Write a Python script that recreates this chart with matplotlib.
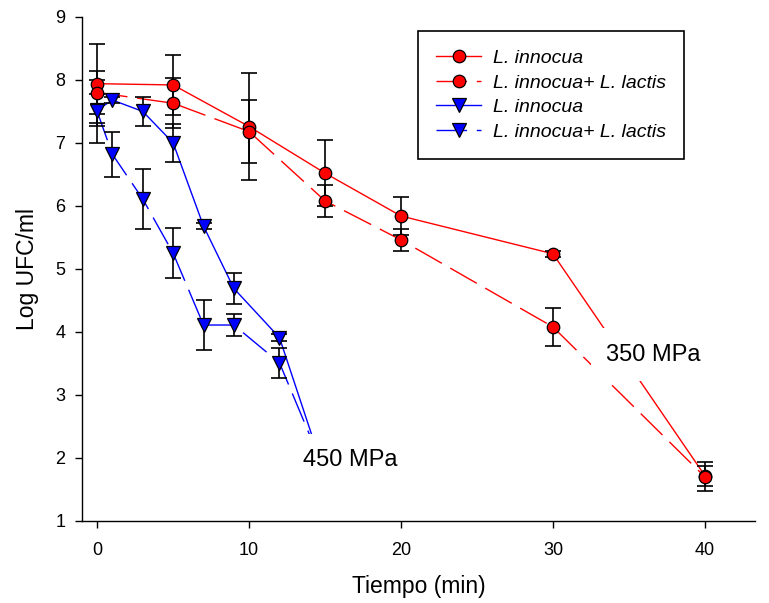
import matplotlib
matplotlib.use("Agg")
import matplotlib.pyplot as plt
from matplotlib.lines import Line2D

plt.rcParams['font.family'] = ['Liberation Sans', 'DejaVu Sans']

# 350 MPa series
t_350 = [0, 5, 10, 15, 20, 30, 40]
inn_350 = [7.94, 7.92, 7.26, 6.52, 5.84, 5.24, 1.72]
inn_350_err = [0.63, 0.48, 0.85, 0.52, 0.30, 0.05, 0.16]
mix_350 = [7.80, 7.63, 7.18, 6.08, 5.46, 4.08, 1.70]
mix_350_err = [0.34, 0.40, 0.50, 0.25, 0.18, 0.30, 0.23]

# 450 MPa series
t_450 = [0, 1, 3, 5, 7, 9, 12, 15]
inn_450 = [7.52, 7.68, 7.50, 7.00, 5.68, 4.69, 3.91, 1.73]
inn_450_err = [0.25, 0.05, 0.23, 0.30, 0.05, 0.24, 0.05, 0.0]
mix_450 = [7.50, 6.82, 6.11, 5.25, 4.11, 4.11, 3.51, 1.78]
mix_450_err = [0.50, 0.36, 0.48, 0.40, 0.40, 0.18, 0.24, 0.0]

labels = ['L. innocua', 'L. innocua+ L. lactis', 'L. innocua', 'L. innocua+ L. lactis']
x_ticks = [0, 10, 20, 30, 40]
y_ticks = [1, 2, 3, 4, 5, 6, 7, 8, 9]

RED = '#ff0000'
BLUE = '#0000ff'
DASH = (0, (22, 7))

fig = plt.figure(figsize=(7.69, 6.03), dpi=100)
ax = fig.add_axes([0.1066, 0.136, 0.8752, 0.836])

series = [
    (t_350, inn_350, inn_350_err, RED, '-', 'o'),
    (t_350, mix_350, mix_350_err, RED, DASH, 'o'),
    (t_450, inn_450, inn_450_err, BLUE, '-', 'v'),
    (t_450, mix_450, mix_450_err, BLUE, DASH, 'v'),
]

handles = []
for (x, y, e, c, ls, m), lab in zip(series, labels):
    ax.plot(x, y, color=c, linestyle=ls, linewidth=1.0, zorder=2)
    ax.errorbar(x, y, yerr=e, fmt='none', ecolor='black', elinewidth=1.2,
                capsize=5.5, capthick=1.2, zorder=3)
    ms = 9 if m == 'o' else 10
    ax.plot(x, y, linestyle='none', marker=m, markersize=ms,
            markerfacecolor=c, markeredgecolor='black', markeredgewidth=0.9,
            zorder=4)
    handles.append(Line2D([], [], color=c, linestyle=ls, linewidth=1.0,
                          marker=m, markersize=ms, markerfacecolor=c,
                          markeredgecolor='black', markeredgewidth=0.9))

ax.text(33.5, 3.64, '350 MPa', fontsize=17, va='center', ha='left',
        zorder=10, bbox=dict(boxstyle='square,pad=0.65', facecolor='white',
                             edgecolor='none'))
ax.text(13.55, 1.96, '450 MPa', fontsize=17, va='center', ha='left',
        zorder=10, bbox=dict(boxstyle='square,pad=0.65', facecolor='white',
                             edgecolor='none'))

ax.set_xlim(-1.0, 43.3)
ax.set_ylim(1, 9)
ax.set_xticks(x_ticks)
ax.set_yticks(y_ticks)
ax.spines['top'].set_visible(False)
ax.spines['right'].set_visible(False)
for s in ('left', 'bottom'):
    ax.spines[s].set_linewidth(1.0)
ax.tick_params(axis='both', direction='out', length=5, width=1.0,
               labelsize=13)
ax.tick_params(axis='x', pad=10)
ax.tick_params(axis='y', pad=7)
ax.set_xlabel('Tiempo (min)', fontsize=16.5, labelpad=12)
ax.set_ylabel('Log UFC/ml', fontsize=16.5, labelpad=12)

leg = ax.legend(handles, labels, loc='upper left',
                bbox_to_anchor=(0.499, 0.972), prop={'style': 'italic', 'size': 14},
                frameon=True, fancybox=False, shadow=False, framealpha=1,
                edgecolor='black', borderpad=0.95, labelspacing=0.36,
                handlelength=2.3, handletextpad=0.6, borderaxespad=0,
                numpoints=1)
leg.get_frame().set_linewidth(1.2)
leg.set_zorder(11)

fig.savefig('out.png', dpi=100)
